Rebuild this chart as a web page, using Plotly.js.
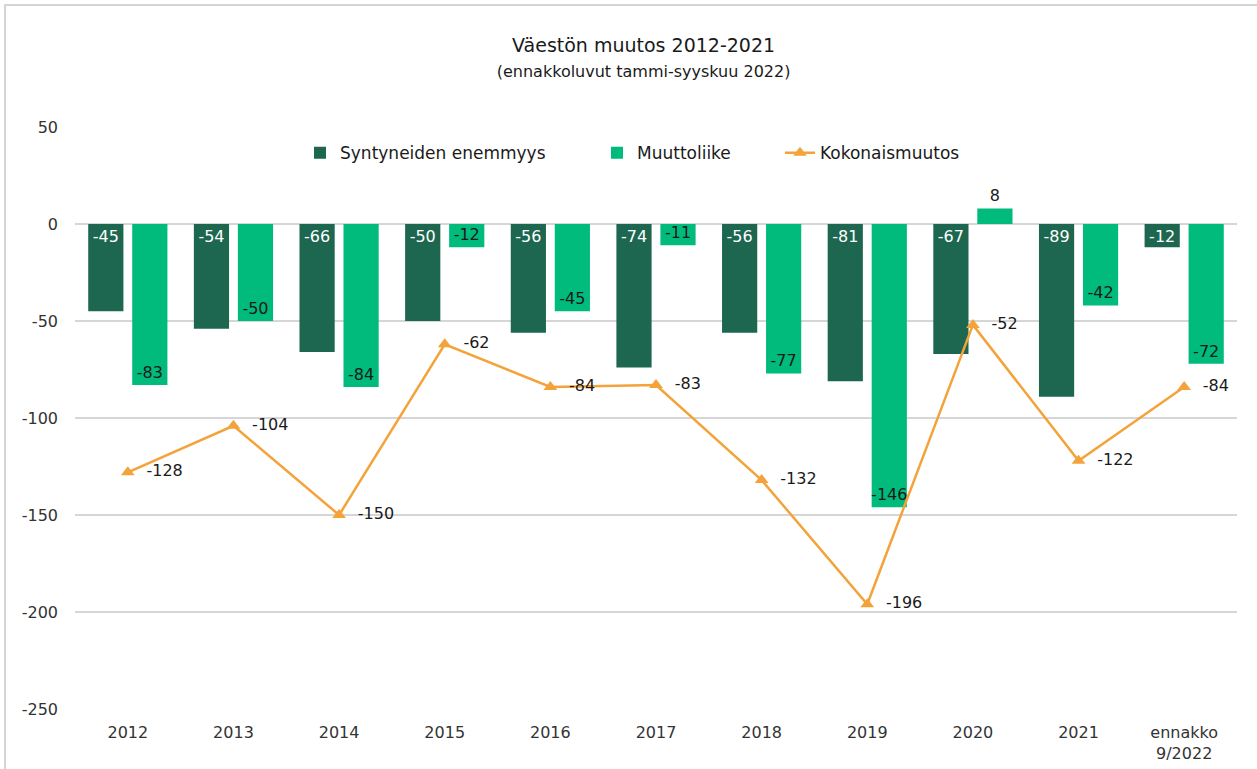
<!DOCTYPE html>
<html>
<head>
<meta charset="utf-8">
<script src="https://cdn.plot.ly/plotly-3.0.1.min.js"></script>
<style>
html,body{margin:0;padding:0;background:#fff;overflow:hidden;}
#wrap{position:relative;width:1257px;height:769px;overflow:hidden;}
#chart{position:absolute;left:0;top:0;width:1257px;height:769px;}
#frame{position:absolute;left:4px;top:4px;width:1270px;height:780px;border:2px solid #d4d4d4;box-sizing:border-box;pointer-events:none;}
</style>
</head>
<body>
<div id="wrap"><div id="chart"></div><div id="frame"></div></div>
<script>
const categories = ["2012","2013","2014","2015","2016","2017","2018","2019","2020","2021","ennakko<br>9/2022"];
const syntyneidenEnemmyys = [-45,-54,-66,-50,-56,-74,-56,-81,-67,-89,-12];
const muuttoliike = [-83,-50,-84,-12,-45,-11,-77,-146,8,-42,-72];
const kokonaismuutos = [-128,-104,-150,-62,-84,-83,-132,-196,-52,-122,-84];
const yTickValues = [50,0,-50,-100,-150,-200,-250];
const yTickLabels = ["50","0","-50","-100","-150","-200","-250"];

const FONT = "DejaVu Sans, Open Sans, sans-serif";
const NB = "\u00a0\u00a0";
const traces = [
  {
    type:'bar', name:'Syntyneiden enemmyys', x:categories, y:syntyneidenEnemmyys,
    marker:{color:'#1d6650'}, legend:'legend',
    text:syntyneidenEnemmyys.map(String), textposition:'inside', insidetextanchor:'start',
    constraintext:'none', textangle:0, cliponaxis:false,
    textfont:{family:FONT,size:16,color:'#ffffff'}
  },
  {
    type:'bar', name:'Muuttoliike', x:categories, y:muuttoliike,
    marker:{color:'#00bb7b'}, legend:'legend2',
    text:muuttoliike.map(String),
    textposition:muuttoliike.map(v => v > 0 ? 'outside' : 'inside'),
    insidetextanchor:'end', constraintext:'none', textangle:0, cliponaxis:false,
    textfont:{family:FONT,size:16,color:'#1a1a1a'},
    outsidetextfont:{family:FONT,size:16,color:'#1a1a1a'}
  },
  {
    type:'scatter', mode:'lines+markers+text', name:'Kokonaismuutos', x:categories, y:kokonaismuutos,
    legend:'legend3',
    line:{color:'#f3a33a',width:2.5},
    marker:{symbol:'triangle-up',size:12,color:'#f3a33a'},
    text:kokonaismuutos.map(v => NB + String(v)), textposition:'middle right',
    textfont:{family:FONT,size:16,color:'#1a1a1a'}, cliponaxis:false
  }
];

const legendBase = {
  orientation:'h', yanchor:'middle', y:0.955, xanchor:'left',
  font:{family:FONT,size:17,color:'#1a1a1a'}, bgcolor:'rgba(0,0,0,0)', itemwidth:30
};
const layout = {
  width:1257, height:769,
  margin:{l:75,r:20,t:127,b:60},
  paper_bgcolor:'#ffffff', plot_bgcolor:'#ffffff',
  font:{family:FONT,size:16,color:'#333333'},
  barmode:'group', bargap:0.167, bargroupgap:0.2,
  title:{
    text:"Väestön muutos 2012-2021<br><span style='font-size:16px'>(ennakkoluvut tammi-syyskuu 2022)</span>",
    font:{family:FONT,size:19,color:'#1a1a1a'},
    x:0.512, xanchor:'center', y:1-52/769, yanchor:'top', yref:'container'
  },
  xaxis:{
    type:'category', range:[-0.5,10.5], autorange:false,
    showgrid:false, showline:false, zeroline:false, ticks:'',
    ticklabelstandoff:12,
    tickfont:{family:FONT,size:16,color:'#333333'}
  },
  yaxis:{
    range:[-250,50], autorange:false, tickmode:'array', tickvals:yTickValues, ticktext:yTickLabels,
    showgrid:true, gridcolor:'#d6d6d6', gridwidth:1.5,
    zeroline:true, zerolinecolor:'#d6d6d6', zerolinewidth:1.5, showline:false, ticks:'',
    ticklabelstandoff:16,
    tickfont:{family:FONT,size:16,color:'#333333'}
  },
  legend:Object.assign({}, legendBase, {x:(300-75)/1162}),
  legend2:Object.assign({}, legendBase, {x:(597-75)/1162}),
  legend3:Object.assign({}, legendBase, {x:(780-75)/1162}),
  showlegend:true
};
Plotly.newPlot('chart', traces, layout, {displayModeBar:false, staticPlot:true});
</script>
</body>
</html>
